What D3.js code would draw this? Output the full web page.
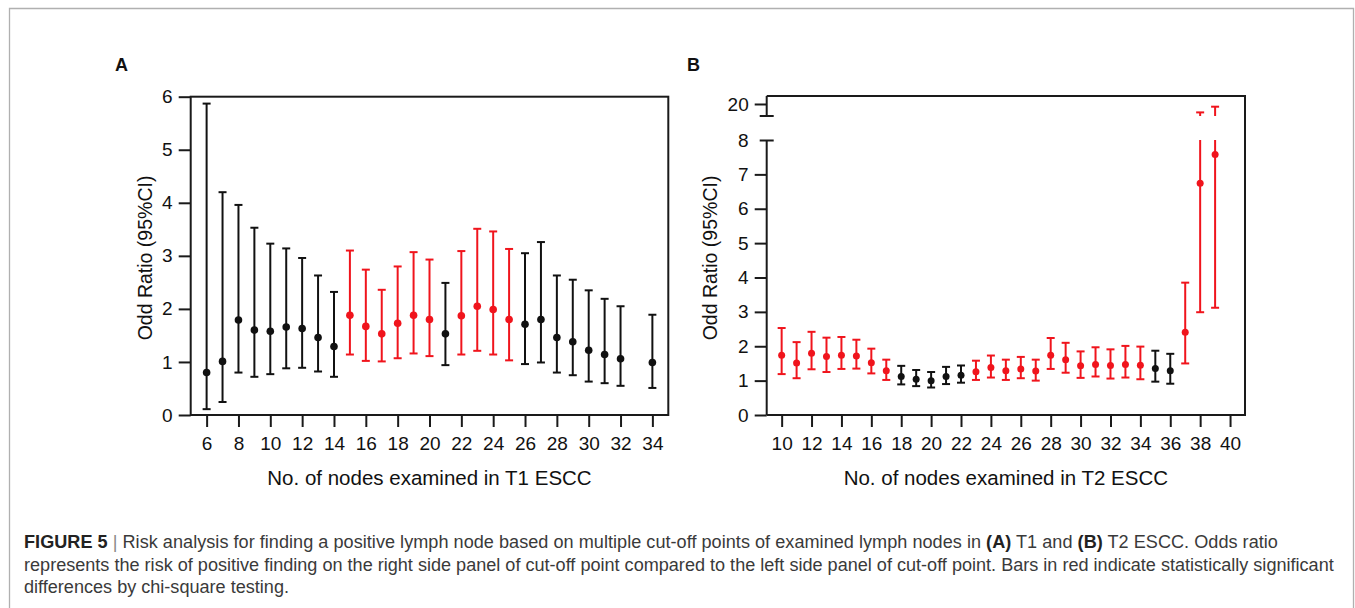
<!DOCTYPE html>
<html><head><meta charset="utf-8">
<script src="https://cdn.jsdelivr.net/npm/d3@7"></script>
<style>
body{margin:0;background:#fff}
svg{display:block}
text{font-family:"Liberation Sans",Arial,Helvetica,sans-serif}
</style>
</head><body>
<svg id="c" width="1355" height="608"></svg>
<script>
// ---------- data ----------
const nodesA = [6,7,8,9,10,11,12,13,14,15,16,17,18,19,20,21,22,23,24,25,26,27,28,29,30,31,32,34];
const orA  = [0.80,1.01,1.79,1.60,1.58,1.66,1.63,1.46,1.29,1.88,1.67,1.53,1.73,1.88,1.80,1.53,1.87,2.05,1.99,1.80,1.71,1.80,1.46,1.38,1.22,1.14,1.06,0.99];
const lowA = [0.11,0.245,0.80,0.72,0.77,0.88,0.89,0.82,0.72,1.14,1.02,1.01,1.07,1.16,1.11,0.94,1.14,1.21,1.14,1.03,0.96,0.99,0.80,0.75,0.63,0.60,0.55,0.51];
const upA  = [5.87,4.20,3.96,3.53,3.23,3.14,2.96,2.63,2.32,3.10,2.74,2.36,2.80,3.07,2.93,2.49,3.09,3.51,3.46,3.13,3.05,3.26,2.63,2.55,2.35,2.19,2.05,1.89];
const sigA = [0,0,0,0,0,0,0,0,0,1,1,1,1,1,1,0,1,1,1,1,0,0,0,0,0,0,0,0];

const nodesB = [10,11,12,13,14,15,16,17,18,19,20,21,22,23,24,25,26,27,28,29,30,31,32,33,34,35,36,37,38,39];
const orB  = [1.74,1.51,1.80,1.70,1.74,1.72,1.52,1.29,1.12,1.04,1.00,1.12,1.16,1.26,1.38,1.29,1.34,1.28,1.74,1.61,1.43,1.47,1.44,1.47,1.45,1.35,1.29,2.41,6.74,7.58];
const lowB = [1.19,1.07,1.33,1.25,1.34,1.35,1.21,1.02,0.89,0.84,0.80,0.90,0.94,1.02,1.09,1.02,1.07,1.00,1.34,1.23,1.08,1.12,1.06,1.09,1.04,0.97,0.91,1.50,2.99,3.12];
const upB  = [2.53,2.12,2.42,2.25,2.27,2.19,1.93,1.61,1.43,1.31,1.25,1.40,1.44,1.58,1.73,1.61,1.69,1.61,2.24,2.10,1.85,1.97,1.91,2.01,1.99,1.87,1.78,3.85,18.6,19.55];
const sigB = [1,1,1,1,1,1,1,1,0,0,0,0,0,1,1,1,1,1,1,1,1,1,1,1,1,0,0,1,1,1];

const xTicksA = [6,8,10,12,14,16,18,20,22,24,26,28,30,32,34];
const yTicksA = [0,1,2,3,4,5,6];
const xTicksB = [10,12,14,16,18,20,22,24,26,28,30,32,34,36,38,40];
const yTicksBLow = [0,1,2,3,4,5,6,7,8];
const yTicksBHigh = [20];

const yTitle = "Odd Ratio (95%CI)";
const xTitleA = "No. of nodes examined in T1 ESCC";
const xTitleB = "No. of nodes examined in T2 ESCC";

// ---------- styles ----------
const RED = "#f0141c", BLACK = "#111", AXC = "#1a1a1a";
const svg = d3.select("#c");
const fmt = d3.format("d");

// figure border
svg.append("path").attr("d","M9.5,608 V8.5 H1353.5 V608")
  .attr("fill","none").attr("stroke","#b0b0b0").attr("stroke-width",1.3);

function styleAxis(g){
  g.select(".domain").remove();
  g.selectAll(".tick line").attr("stroke",AXC).attr("stroke-width",2);
  g.selectAll(".tick text").attr("fill","#111").style("font-size","19px")
    .style("font-family",'"Liberation Sans",Arial,sans-serif');
}

function errorBars(g, x, y, nodes, ors, lows, ups, sig, r, capW, yHigh, lowTop){
  const d = nodes.map((n,i)=>({n, o:ors[i], l:lows[i], u:ups[i], s:sig[i]}));
  const grp = g.selectAll("g.pt").data(d).enter().append("g").attr("class","pt")
    .attr("stroke",p=>p.s?RED:BLACK).attr("fill",p=>p.s?RED:BLACK).attr("stroke-width",2);
  grp.each(function(p){
    const e = d3.select(this), cx = x(p.n);
    const broken = lowTop!==undefined && p.u > lowTop;
    const uy = broken ? y(lowTop) : y(p.u);
    e.append("line").attr("x1",cx).attr("x2",cx).attr("y1",y(p.l)).attr("y2",uy);
    e.append("line").attr("x1",cx-capW/2).attr("x2",cx+capW/2).attr("y1",y(p.l)).attr("y2",y(p.l));
    if(!broken){
      e.append("line").attr("x1",cx-capW/2).attr("x2",cx+capW/2).attr("y1",y(p.u)).attr("y2",y(p.u));
    } else {
      const yb = yHigh.range()[0];
      e.append("line").attr("x1",cx).attr("x2",cx).attr("y1",yb).attr("y2",yHigh(p.u));
      e.append("line").attr("x1",cx-capW/2).attr("x2",cx+capW/2).attr("y1",yHigh(p.u)).attr("y2",yHigh(p.u));
    }
    e.append("circle").attr("cx",cx).attr("cy",y(p.o)).attr("r",r).attr("stroke","none");
  });
}

// ---------- Panel A ----------
const A = {l:190.7, r:668.3, t:96.7, b:415};
const xA = d3.scaleLinear().domain([5,35]).range([A.l,A.r]);
const yA = d3.scaleLinear().domain([0,6]).range([A.b,A.t]);
const gA = svg.append("g");
gA.append("g").attr("transform",`translate(0,${A.b})`)
  .call(d3.axisBottom(xA).tickValues(xTicksA).tickFormat(fmt).tickSize(12).tickPadding(10).tickSizeOuter(0)).call(styleAxis);
gA.append("g").attr("transform",`translate(${A.l},0)`)
  .call(d3.axisLeft(yA).tickValues(yTicksA).tickFormat(fmt).tickSize(12).tickPadding(6).tickSizeOuter(0)).call(styleAxis);
gA.append("rect").attr("x",A.l).attr("y",A.t).attr("width",A.r-A.l).attr("height",A.b-A.t)
  .attr("fill","none").attr("stroke",AXC).attr("stroke-width",2);
errorBars(gA, xA, yA, nodesA, orA, lowA, upA, sigA, 3.8, 8);
gA.append("text").attr("x",115).attr("y",71).text("A").style("font-weight","bold").style("font-size","18px").attr("fill","#111");
gA.append("text").attr("transform",`translate(152,258) rotate(-90)`).attr("text-anchor","middle")
  .style("font-size","19.5px").attr("fill","#111").text(yTitle);
gA.append("text").attr("x",(A.l+A.r)/2).attr("y",485).attr("text-anchor","middle")
  .style("font-size","20.5px").attr("fill","#111").text(xTitleA);

// ---------- Panel B ----------
const B = {l:766.7, r:1245, t:96, b:415, lowTop:140, highBot:116};
const xB = d3.scaleLinear().domain([9,41]).range([B.l,B.r]);
const yB = d3.scaleLinear().domain([0,8]).range([B.b,B.lowTop]);
const yBH = d3.scaleLinear().domain([18,21.33]).range([B.highBot,B.t]);
const gB = svg.append("g");
gB.append("g").attr("transform",`translate(0,${B.b})`)
  .call(d3.axisBottom(xB).tickValues(xTicksB).tickFormat(fmt).tickSize(12).tickPadding(10).tickSizeOuter(0)).call(styleAxis);
const ayL = gB.append("g").attr("transform",`translate(${B.l},0)`)
  .call(d3.axisLeft(yB).tickValues(yTicksBLow).tickFormat(fmt).tickSize(12).tickPadding(6).tickSizeOuter(0)).call(styleAxis);
ayL.selectAll(".tick").filter(d=>d===8).select("line").attr("x1",7).attr("x2",-7);
const ayH = gB.append("g").attr("transform",`translate(${B.l},0)`)
  .call(d3.axisLeft(yBH).tickValues(yTicksBHigh).tickFormat(fmt).tickSize(12).tickPadding(6).tickSizeOuter(0)).call(styleAxis);
// axis segments and break mark
gB.append("line").attr("x1",B.l).attr("x2",B.l).attr("y1",B.lowTop).attr("y2",B.b).attr("stroke",AXC).attr("stroke-width",2);
gB.append("line").attr("x1",B.l).attr("x2",B.l).attr("y1",B.t).attr("y2",B.highBot).attr("stroke",AXC).attr("stroke-width",2);
gB.append("line").attr("x1",B.l-7).attr("x2",B.l+7).attr("y1",B.highBot).attr("y2",B.highBot).attr("stroke",AXC).attr("stroke-width",2);
// frame: top, right, bottom
gB.append("path").attr("d",`M${B.l},${B.t} H${B.r} V${B.b} H${B.l}`).attr("fill","none").attr("stroke",AXC).attr("stroke-width",2);
errorBars(gB, xB, yB, nodesB, orB, lowB, upB, sigB, 3.5, 8, yBH, 8);
gB.append("text").attr("x",687).attr("y",71).text("B").style("font-weight","bold").style("font-size","18px").attr("fill","#111");
gB.append("text").attr("transform",`translate(717,258) rotate(-90)`).attr("text-anchor","middle")
  .style("font-size","19.5px").attr("fill","#111").text(yTitle);
gB.append("text").attr("x",(B.l+B.r)/2).attr("y",485).attr("text-anchor","middle")
  .style("font-size","20.5px").attr("fill","#111").text(xTitleB);

// ---------- caption ----------
const capLine1 = [
  {t:"FIGURE 5", b:true},
  {t:" | ", b:false, c:"#888"},
  {t:"Risk analysis for finding a positive lymph node based on multiple cut-off points of examined lymph nodes in ", b:false},
  {t:"(A)", b:true},
  {t:" T1 and ", b:false},
  {t:"(B)", b:true},
  {t:" T2 ESCC. Odds ratio", b:false}
];
const capLine2 = "represents the risk of positive finding on the right side panel of cut-off point compared to the left side panel of cut-off point. Bars in red indicate statistically significant";
const capLine3 = "differences by chi-square testing.";

const capX = 24, fs0 = 16.5;
const t2 = svg.append("text").attr("x",capX).attr("y",570.5).style("font-size",fs0+"px").attr("fill","#3a3a3a").text(capLine2);
const w2 = t2.node().getComputedTextLength();
const fs = fs0 * (1310 / w2);
t2.style("font-size",fs+"px");
const t1 = svg.append("text").attr("x",capX).attr("y",548).style("font-size",fs+"px").attr("fill","#3a3a3a");
capLine1.forEach(p=>{
  t1.append("tspan").text(p.t).style("font-weight",p.b?"bold":"normal").attr("fill",p.c|| (p.b?"#222":"#3a3a3a"));
});
const w1 = t1.node().getComputedTextLength();
const n1 = capLine1.map(p=>p.t).join("").length;
t1.style("letter-spacing", ((1254 - w1)/n1)+"px");
svg.append("text").attr("x",capX).attr("y",593).style("font-size",fs+"px").attr("fill","#3a3a3a").text(capLine3);
</script>
</body></html>
